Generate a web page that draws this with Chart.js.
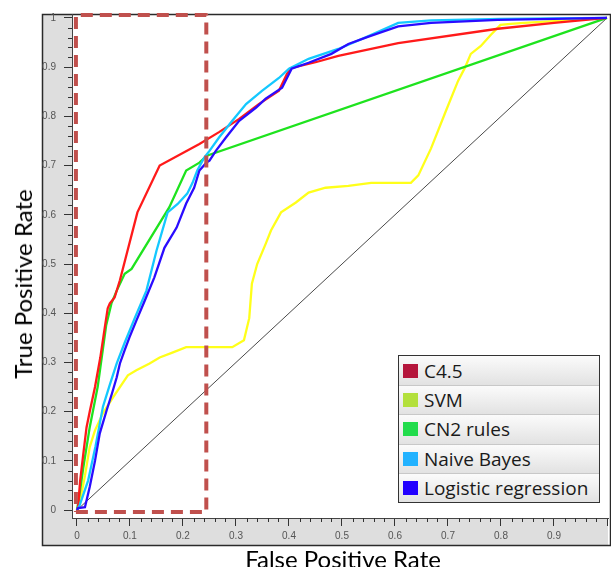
<!DOCTYPE html>
<html>
<head>
<meta charset="utf-8">
<script src="https://cdn.jsdelivr.net/npm/chart.js@4/dist/chart.umd.min.js"></script>
<style>
    body { margin: 0; background: #fff; }
    #wrap { position: relative; width: 611px; height: 567px; overflow: hidden; }
    #legend {
        position: absolute; left: 398px; top: 355px; width: 200px;
        border: 1px solid #333; background: #eee;
        font-family: "Open Sans", sans-serif; font-size: 19px; color: #1a1a1a;
    }
    #legend .row {
        height: 29.2px; display: flex; align-items: center;
        background: linear-gradient(#fbfbfb, #e2e2e2);
        border-top: 1px solid #c8c8c8; box-sizing: border-box;
        padding-left: 4px; white-space: nowrap;
    }
    #legend .row:first-child { border-top: none; }
    #legend .sw { width: 15px; height: 14px; margin-right: 6px; flex: none; }
    .axis-title {
        position: absolute; font-family: Lato, sans-serif; font-size: 24px;
        line-height: 24px; color: #000; white-space: nowrap;
    }
    #xtitle { left: 343px; top: 559px; transform: translate(-50%, -50%); }
    #ytitle { left: 23px; top: 284px; transform: translate(-50%, -50%) rotate(-90deg); }
</style>
</head>
<body>
<div id="wrap">
    <canvas id="roc" width="611" height="567"></canvas>
    <div id="legend"></div>
    <div class="axis-title" id="xtitle">False Positive Rate</div>
    <div class="axis-title" id="ytitle">True Positive Rate</div>
</div>
<script>
// ROC points (false positive rate / true positive rate)
const c45Fpr = [0, 0.002, 0.006, 0.012, 0.018, 0.024, 0.034, 0.044, 0.053, 0.058, 0.062, 0.071, 0.081, 0.114, 0.156, 0.231, 0.268, 0.306, 0.343, 0.381, 0.396, 0.403, 0.45, 0.493, 0.606, 0.794, 0.9, 1];
const c45Tpr = [0, 0.006, 0.06, 0.115, 0.168, 0.2, 0.25, 0.31, 0.375, 0.41, 0.42, 0.432, 0.467, 0.605, 0.70, 0.744, 0.768, 0.795, 0.825, 0.852, 0.886, 0.898, 0.91, 0.923, 0.949, 0.978, 0.99, 1];

const svmFpr = [0, 0.006, 0.015, 0.024, 0.034, 0.049, 0.068, 0.081, 0.096, 0.112, 0.137, 0.156, 0.18, 0.206, 0.225, 0.268, 0.293, 0.315, 0.325, 0.33, 0.34, 0.356, 0.366, 0.385, 0.413, 0.437, 0.469, 0.512, 0.555, 0.63, 0.644, 0.668, 0.696, 0.719, 0.732, 0.743, 0.762, 0.781, 0.799, 0.818, 0.844, 1];
const svmTpr = [0, 0.02, 0.07, 0.128, 0.162, 0.197, 0.229, 0.25, 0.274, 0.284, 0.298, 0.31, 0.32, 0.331, 0.331, 0.331, 0.331, 0.345, 0.39, 0.46, 0.50, 0.541, 0.568, 0.605, 0.625, 0.645, 0.655, 0.659, 0.665, 0.665, 0.68, 0.735, 0.811, 0.872, 0.899, 0.927, 0.943, 0.966, 0.986, 0.988, 0.99, 1];

const cn2Fpr = [0, 0.004, 0.012, 0.024, 0.039, 0.055, 0.065, 0.075, 0.09, 0.103, 0.174, 0.206, 0.231, 0.245, 1];
const cn2Tpr = [0, 0.026, 0.087, 0.168, 0.25, 0.375, 0.42, 0.446, 0.48, 0.49, 0.615, 0.69, 0.706, 0.72, 1];

const nbFpr = [0, 0.005, 0.021, 0.035, 0.049, 0.062, 0.075, 0.09, 0.109, 0.131, 0.15, 0.171, 0.19, 0.208, 0.218, 0.227, 0.24, 0.25, 0.268, 0.293, 0.319, 0.349, 0.381, 0.40, 0.437, 0.493, 0.55, 0.606, 0.668, 0.8, 0.9, 1];
const nbTpr = [0, 0.01, 0.06, 0.13, 0.21, 0.255, 0.298, 0.34, 0.39, 0.446, 0.527, 0.605, 0.622, 0.643, 0.665, 0.69, 0.716, 0.73, 0.757, 0.791, 0.825, 0.852, 0.878, 0.897, 0.917, 0.937, 0.963, 0.99, 0.995, 0.998, 0.999, 1];

const lrFpr = [0, 0.002, 0.015, 0.024, 0.034, 0.043, 0.056, 0.066, 0.075, 0.081, 0.09, 0.099, 0.112, 0.128, 0.146, 0.165, 0.188, 0.206, 0.221, 0.231, 0.244, 0.25, 0.262, 0.281, 0.306, 0.338, 0.356, 0.387, 0.405, 0.437, 0.48, 0.512, 0.55, 0.606, 0.668, 0.794, 0.9, 1];
const lrTpr = [0, 0.004, 0.006, 0.047, 0.10, 0.156, 0.203, 0.237, 0.27, 0.298, 0.325, 0.351, 0.385, 0.426, 0.473, 0.533, 0.574, 0.623, 0.655, 0.69, 0.706, 0.71, 0.73, 0.757, 0.791, 0.818, 0.836, 0.858, 0.897, 0.909, 0.927, 0.947, 0.962, 0.983, 0.99, 0.996, 0.998, 1];

const diagFpr = [0, 1];
const diagTpr = [0, 1];

// highlighted region (dashed box)
const boxFpr = [-0.002, 0.244, 0.244, -0.002, -0.002];
const boxTpr = [-0.004, -0.004, 1.006, 1.006, -0.004];

const axisTicks = [0, 0.1, 0.2, 0.3, 0.4, 0.5, 0.6, 0.7, 0.8, 0.9, 1];

const series = [
    { label: 'C4.5', fpr: c45Fpr, tpr: c45Tpr, line: '#ff1a1a', key: '#b5163c' },
    { label: 'SVM', fpr: svmFpr, tpr: svmTpr, line: '#ffff1a', key: '#b3e03c' },
    { label: 'CN2 rules', fpr: cn2Fpr, tpr: cn2Tpr, line: '#1ee31e', key: '#22dc4c' },
    { label: 'Naive Bayes', fpr: nbFpr, tpr: nbTpr, line: '#14c8ff', key: '#22b2ff' },
    { label: 'Logistic regression', fpr: lrFpr, tpr: lrTpr, line: '#2a0cff', key: '#2200ff' }
];

function points(xs, ys) {
    return xs.map((x, i) => ({ x, y: ys[i] }));
}

// drawn first in the list = on top
const datasets = [
    {
        data: points(boxFpr, boxTpr),
        borderColor: '#c0504d',
        borderWidth: 4,
        borderDash: [12, 7],
        borderJoinStyle: 'round',
        clip: false
    }
];
[4, 3, 0, 2, 1].forEach(i => {
    const s = series[i];
    datasets.push({
        data: points(s.fpr, s.tpr),
        borderColor: s.line,
        borderWidth: 2.3
    });
});
datasets.push({
    data: points(diagFpr, diagTpr),
    borderColor: '#4a4a4a',
    borderWidth: 1
});
datasets.forEach(d => {
    d.showLine = true;
    d.pointRadius = 0;
    d.tension = 0;
});

// gray axis panels, frame and minor ticks
const framePlugin = {
    id: 'frame',
    beforeDraw(chart) {
        const { ctx, chartArea: a } = chart;
        const left = a.left - 30, bottom = a.bottom + 27;
        ctx.save();
        ctx.fillStyle = '#fff';
        ctx.fillRect(0, 0, chart.width, chart.height);
        ctx.fillStyle = '#dedede';
        ctx.fillRect(left, a.top, a.left - left, bottom - a.top);
        ctx.fillRect(left, a.bottom, a.right - left, bottom - a.bottom);
        ctx.strokeStyle = '#2a2a2a';
        ctx.lineWidth = 1.5;
        ctx.strokeRect(left + 0.5, a.top + 0.5, a.right - left + 2, bottom - a.top);
        ctx.restore();
    },
    afterDraw(chart) {
        const { ctx, chartArea: a, scales } = chart;
        ctx.save();
        ctx.strokeStyle = '#333';
        ctx.lineWidth = 1;
        ctx.beginPath();
        for (let i = 1; i < 50; i++) {
            if (i % 5 === 0) continue;
            const v = i / 50;
            const px = Math.round(scales.x.getPixelForValue(v)) + 0.5;
            ctx.moveTo(px, a.bottom);
            ctx.lineTo(px, a.bottom + 4);
            const py = Math.round(scales.y.getPixelForValue(v)) + 0.5;
            ctx.moveTo(a.left - 4, py);
            ctx.lineTo(a.left, py);
        }
        ctx.stroke();
        ctx.restore();
    }
};

const tickFont = { family: 'Liberation Sans', size: 10 };

function tickLabel(value) {
    if (value === 0) return '0';
    if (value === 1) return '1';
    return value.toFixed(1);
}

const chart = new Chart(document.querySelector('#roc'), {
    type: 'scatter',
    data: { datasets },
    plugins: [framePlugin],
    options: {
        responsive: false,
        animation: false,
        devicePixelRatio: 1,
        layout: { padding: { top: 13, left: 0, right: 0, bottom: 0 } },
        plugins: {
            legend: { display: false },
            tooltip: { enabled: false }
        },
        scales: {
            x: {
                type: 'linear',
                min: -0.0094,
                max: 1.0019,
                afterBuildTicks: scale => { scale.ticks = axisTicks.map(v => ({ value: v })); },
                afterFit: scale => { scale.height = 49; },
                grid: { drawOnChartArea: false, tickLength: 8, tickColor: '#333' },
                border: { color: '#444' },
                ticks: {
                    autoSkip: false, maxRotation: 0, padding: 4,
                    font: tickFont, color: '#555',
                    callback: v => (v === 1 ? '' : tickLabel(v))
                }
            },
            y: {
                type: 'linear',
                min: -0.016,
                max: 1.008,
                afterBuildTicks: scale => { scale.ticks = axisTicks.map(v => ({ value: v })); },
                afterFit: scale => { scale.width = 72; },
                grid: { drawOnChartArea: false, tickLength: 8, tickColor: '#333' },
                border: { color: '#444' },
                ticks: {
                    autoSkip: false, padding: 8,
                    font: tickFont, color: '#555',
                    callback: v => tickLabel(v)
                }
            }
        }
    }
});

// legend box
const legend = document.querySelector('#legend');
series.forEach(s => {
    const row = document.createElement('div');
    row.className = 'row';
    const sw = document.createElement('span');
    sw.className = 'sw';
    sw.style.background = s.key;
    const txt = document.createElement('span');
    txt.textContent = s.label;
    row.appendChild(sw);
    row.appendChild(txt);
    legend.appendChild(row);
});
</script>
</body>
</html>
